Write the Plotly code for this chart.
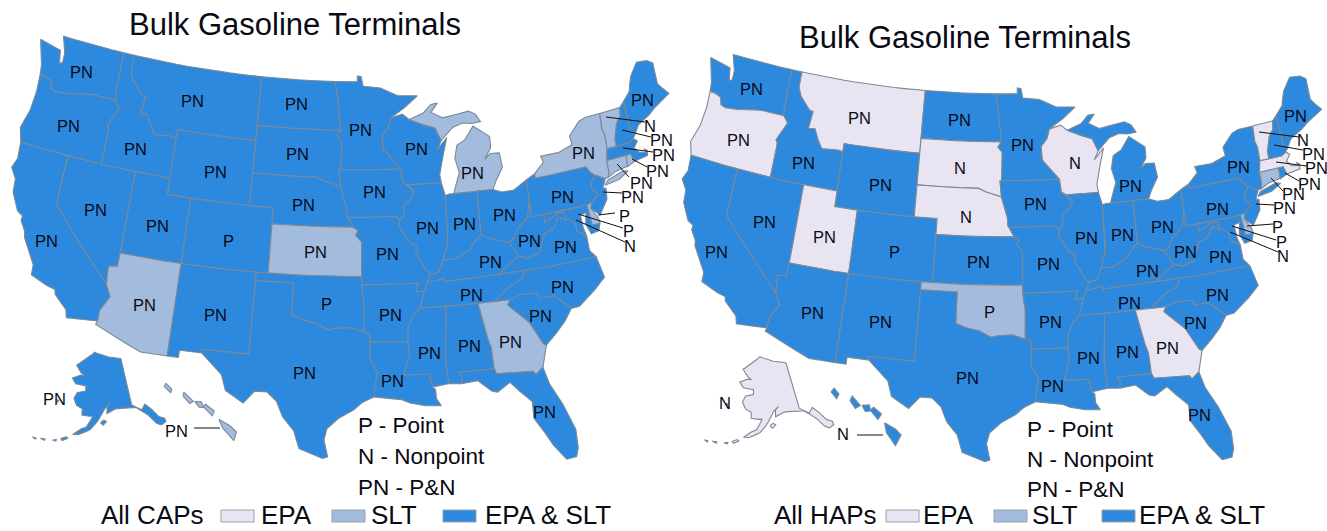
import numpy as np
import plotly.graph_objects as go

# ---------- data ----------
TITLE = "Bulk Gasoline Terminals"
CAP_SLT = ["AZ", "KS", "GA", "MI", "NY", "VT", "CT", "RI", "DE", "HI"]
CAP_EPA = []
HAP_SLT = ["OK", "CT", "DE"]
HAP_EPA = ["OR", "MT", "SD", "NE", "WI", "UT", "GA", "VT", "MA", "AK"]
COL = {"EPA": "#e8e4f2", "SLT": "#a3bbdd", "EPA & SLT": "#2c89de"}
EDGE = "#7c8996"

STATES = {
"WA": [[(-124.72,48.38),(-123.1,48.15),(-122.75,48.1),(-122.55,47.3),(-122.3,47.4),(-122.3,48.0),(-122.5,48.4),(-122.76,49.0),(-117.03,49.0),(-117.04,46.42),(-116.92,45.995),(-118.98,46.0),(-119.6,45.92),(-121.2,45.65),(-122.3,45.55),(-122.76,45.65),(-122.95,46.1),(-123.5,46.25),(-124.0,46.27),(-124.1,46.9),(-124.4,47.6)]],
"OR": [[(-124.0,46.27),(-123.5,46.25),(-122.95,46.1),(-122.76,45.65),(-122.3,45.55),(-121.2,45.65),(-119.6,45.92),(-118.98,46.0),(-116.92,45.995),(-116.46,45.6),(-116.85,45.0),(-117.2,44.4),(-117.03,44.2),(-117.03,42.0),(-124.2,42.0),(-124.55,42.84),(-124.1,44.0),(-123.95,45.2)]],
"CA": [[(-124.2,42.0),(-120.0,42.0),(-120.0,39.0),(-114.63,35.0),(-114.14,34.3),(-114.72,33.4),(-114.72,32.72),(-117.12,32.53),(-117.3,33.0),(-118.4,33.75),(-118.5,34.03),(-119.2,34.15),(-120.6,34.55),(-120.65,35.15),(-121.9,36.6),(-122.0,36.95),(-122.5,37.5),(-122.5,37.8),(-123.0,38.0),(-123.75,39.0),(-123.85,39.8),(-124.4,40.4),(-124.1,41.0)]],
"NV": [[(-120,42),(-114.04,42),(-114.04,36.2),(-114.75,36.1),(-114.63,35.0),(-120,39)]],
"ID": [[(-117.03,49),(-116.05,49),(-116.05,48.0),(-115.7,47.45),(-114.7,46.7),(-114.35,46.65),(-114.5,45.55),(-113.9,45.6),(-113.45,44.95),(-113.0,44.45),(-111.5,44.55),(-111.05,44.48),(-111.05,42.0),(-117.03,42.0),(-117.03,44.2),(-117.2,44.4),(-116.85,45.0),(-116.46,45.6),(-116.92,45.995),(-117.04,46.42)]],
"MT": [[(-116.05,49),(-104.05,49),(-104.05,45.0),(-111.05,45.0),(-111.05,44.48),(-111.5,44.55),(-113.0,44.45),(-113.45,44.95),(-113.9,45.6),(-114.5,45.55),(-114.35,46.65),(-114.7,46.7),(-115.7,47.45),(-116.05,48.0)]],
"WY": [[(-111.05,45),(-104.05,45),(-104.05,41),(-111.05,41)]],
"UT": [[(-114.04,42),(-111.05,42),(-111.05,41),(-109.05,41),(-109.05,37),(-114.04,37)]],
"CO": [[(-109.05,41),(-102.05,41),(-102.05,37),(-109.05,37)]],
"AZ": [[(-114.04,37),(-109.05,37),(-109.05,31.33),(-111.07,31.33),(-114.81,32.5),(-114.72,32.72),(-114.72,33.4),(-114.14,34.3),(-114.63,35.0),(-114.75,36.1),(-114.04,36.2)]],
"NM": [[(-109.05,37),(-103.0,37),(-103.04,32.0),(-106.62,32.0),(-106.53,31.78),(-108.21,31.78),(-108.21,31.33),(-109.05,31.33)]],
"ND": [[(-104.05,49),(-97.23,49),(-96.85,47.6),(-96.56,45.94),(-104.05,45.94)]],
"SD": [[(-104.05,45.94),(-96.56,45.94),(-96.85,45.6),(-96.45,45.3),(-96.45,43.5),(-96.6,43.5),(-96.45,42.49),(-97.9,42.8),(-98.5,43.0),(-104.05,43.0)]],
"NE": [[(-104.05,43),(-98.5,43),(-97.9,42.8),(-96.45,42.49),(-96.1,41.7),(-95.9,41.2),(-95.85,40.7),(-95.31,40.0),(-102.05,40),(-102.05,41),(-104.05,41)]],
"KS": [[(-102.05,40),(-95.31,40),(-94.9,39.8),(-95.1,39.5),(-94.61,39.1),(-94.62,37),(-102.05,37)]],
"OK": [[(-103,37),(-94.62,37),(-94.62,36.5),(-94.43,35.4),(-94.48,33.64),(-95.5,33.9),(-96.6,33.85),(-97.2,33.75),(-98.1,34.13),(-99.2,34.3),(-100,34.56),(-100,36.5),(-103,36.5)]],
"TX": [[(-106.62,32),(-103.04,32),(-103,36.5),(-100,36.5),(-100,34.56),(-99.2,34.3),(-98.1,34.13),(-97.2,33.75),(-96.6,33.85),(-95.5,33.9),(-94.48,33.64),(-94.04,33.55),(-94.04,33.02),(-94.04,31.99),(-93.55,31.2),(-93.7,30.5),(-93.84,29.7),(-94.7,29.35),(-95.3,28.9),(-96.4,28.35),(-97.2,27.7),(-97.4,27.0),(-97.15,25.96),(-97.5,25.85),(-99.1,26.4),(-99.5,27.5),(-100.3,28.3),(-100.8,29.25),(-101.5,29.77),(-102.4,29.77),(-103.15,28.98),(-104.5,29.65),(-104.9,30.6),(-106.53,31.78)]],
"MN": [[(-97.23,49),(-95.15,49),(-95.15,49.38),(-94.8,49.33),(-94.6,48.72),(-93.0,48.6),(-91.4,48.07),(-89.6,48.0),(-90.8,47.3),(-92.05,46.7),(-92.3,46.1),(-92.85,45.6),(-92.75,44.75),(-91.22,43.5),(-96.45,43.5),(-96.45,45.3),(-96.85,45.6),(-96.56,45.94),(-96.85,47.6)]],
"IA": [[(-96.45,43.5),(-91.22,43.5),(-91.1,42.7),(-90.15,42.1),(-90.3,41.75),(-91.1,41.2),(-91.0,40.7),(-91.42,40.38),(-91.7,40.6),(-95.77,40.58),(-95.85,40.7),(-95.9,41.2),(-96.1,41.7),(-96.45,42.49),(-96.6,43.5)]],
"MO": [[(-95.77,40.58),(-91.7,40.6),(-91.42,40.38),(-91.5,40.0),(-90.7,39.0),(-90.15,38.8),(-90.2,38.4),(-89.5,37.3),(-89.15,37.0),(-89.4,36.5),(-89.7,36.0),(-90.37,36.0),(-90.15,36.5),(-94.62,36.5),(-94.62,37),(-94.61,39.1),(-95.1,39.5),(-94.9,39.8),(-95.31,40.0),(-95.85,40.7)]],
"AR": [[(-94.62,36.5),(-90.15,36.5),(-90.37,36.0),(-89.7,36.0),(-90.1,35.0),(-90.6,34.6),(-91.1,33.9),(-91.17,33.0),(-94.04,33.02),(-94.04,33.55),(-94.48,33.64),(-94.43,35.4)]],
"LA": [[(-94.04,33.02),(-91.17,33.0),(-91.1,32.3),(-91.6,31.0),(-89.73,31.0),(-89.6,30.2),(-89.4,30.05),(-89.4,29.5),(-89.1,29.05),(-90.2,29.1),(-91.3,29.3),(-91.85,29.5),(-92.3,29.55),(-93.84,29.7),(-93.7,30.5),(-93.55,31.2),(-94.04,31.99)]],
"WI": [[(-92.05,46.7),(-91.0,46.9),(-90.4,46.55),(-89.1,46.15),(-88.1,45.9),(-87.6,45.1),(-88.0,44.55),(-87.1,45.25),(-87.5,44.2),(-87.9,43.0),(-87.8,42.49),(-90.65,42.5),(-91.1,42.7),(-91.22,43.5),(-92.75,44.75),(-92.85,45.6),(-92.3,46.1)]],
"IL": [[(-90.65,42.5),(-87.8,42.49),(-87.53,41.7),(-87.53,39.35),(-87.6,38.7),(-88.05,37.8),(-88.45,37.1),(-89.15,37.0),(-89.5,37.3),(-90.2,38.4),(-90.15,38.8),(-90.7,39.0),(-91.5,40.0),(-91.42,40.38),(-91.0,40.7),(-91.1,41.2),(-90.3,41.75),(-90.15,42.1)]],
"IN": [[(-87.53,41.7),(-87.2,41.76),(-86.8,41.76),(-84.8,41.76),(-84.82,39.1),(-84.9,39.05),(-85.4,38.7),(-85.8,38.3),(-86.5,38.0),(-87.1,37.8),(-88.05,37.8),(-87.6,38.7),(-87.53,39.35)]],
"MI": [[(-86.8,41.76),(-84.8,41.76),(-83.45,41.73),(-83.1,42.25),(-82.45,43.0),(-82.6,43.9),(-83.4,43.95),(-83.9,43.65),(-83.3,44.3),(-83.3,45.0),(-84.7,45.78),(-85.5,45.0),(-86.25,44.7),(-86.5,43.9),(-86.2,43.0),(-86.6,42.2)],
       [(-90.4,46.55),(-89.1,46.9),(-88.4,47.4),(-87.8,47.45),(-88.4,46.9),(-87.4,46.5),(-86.0,46.65),(-85.0,46.75),(-84.4,46.5),(-84.0,46.0),(-84.8,45.95),(-85.6,46.05),(-86.5,45.85),(-87.6,45.1),(-88.1,45.9),(-89.1,46.15)]],
"OH": [[(-84.8,41.76),(-83.45,41.73),(-82.7,41.5),(-81.7,41.5),(-80.52,42.0),(-80.52,40.64),(-80.85,39.7),(-81.7,39.2),(-82.2,38.6),(-82.6,38.4),(-83.6,38.65),(-84.3,38.85),(-84.82,39.1)]],
"KY": [[(-89.15,37.0),(-88.45,37.1),(-88.05,37.8),(-87.1,37.8),(-86.5,38.0),(-85.8,38.3),(-85.4,38.7),(-84.9,39.05),(-84.82,39.1),(-84.3,38.85),(-83.6,38.65),(-82.6,38.4),(-82.0,37.5),(-83.68,36.6),(-88.07,36.5),(-88.07,36.68),(-89.4,36.5)]],
"TN": [[(-90.1,35.0),(-88.2,35.0),(-84.32,35.0),(-83.1,35.75),(-82.0,36.1),(-81.68,36.59),(-83.68,36.6),(-88.07,36.5),(-88.07,36.68),(-89.4,36.5),(-89.7,36.0)]],
"MS": [[(-90.1,35.0),(-88.2,35.0),(-88.1,34.9),(-88.47,31.9),(-88.4,30.35),(-89.6,30.2),(-89.73,31.0),(-91.6,31.0),(-91.1,32.3),(-91.17,33.0),(-91.1,33.9),(-90.6,34.6)]],
"AL": [[(-88.2,35),(-85.6,35),(-85.18,32.87),(-85.0,32.3),(-85.0,31.0),(-87.6,31.0),(-87.4,30.65),(-87.5,30.3),(-88.4,30.35),(-88.47,31.9),(-88.1,34.9)]],
"GA": [[(-85.6,35),(-83.1,35),(-83.35,34.7),(-81.9,33.5),(-81.1,32.1),(-80.9,32.0),(-81.45,30.72),(-82.05,30.36),(-82.2,30.57),(-84.86,30.7),(-85.0,31.0),(-85.0,32.3),(-85.18,32.87)]],
"FL": [[(-87.5,30.3),(-87.4,30.65),(-87.6,31.0),(-85.0,31.0),(-84.86,30.7),(-82.2,30.57),(-82.05,30.36),(-81.45,30.72),(-81.2,29.7),(-80.55,28.4),(-80.03,26.8),(-80.15,25.7),(-80.4,25.2),(-81.1,25.13),(-81.8,26.1),(-82.2,26.9),(-82.75,27.8),(-82.65,28.8),(-83.4,29.5),(-84.0,30.1),(-85.0,29.6),(-85.4,29.7),(-86.3,30.4)]],
"SC": [[(-83.1,35),(-82.3,35.2),(-81.0,35.15),(-80.8,34.82),(-79.67,34.8),(-78.55,33.86),(-79.2,33.2),(-80.0,32.6),(-80.9,32.0),(-81.1,32.1),(-81.9,33.5),(-83.35,34.7)]],
"NC": [[(-84.32,35),(-83.1,35),(-82.3,35.2),(-81,35.15),(-80.8,34.82),(-79.67,34.8),(-78.55,33.86),(-77.9,33.9),(-76.5,34.65),(-75.55,35.25),(-75.87,36.55),(-81.68,36.59),(-82.0,36.1),(-83.1,35.75)]],
"VA": [[(-83.68,36.6),(-81.68,36.59),(-75.87,36.55),(-76.3,37.0),(-76.3,37.9),(-77.0,38.3),(-77.05,38.8),(-77.5,39.1),(-77.83,39.13),(-78.35,39.4),(-78.87,38.76),(-79.65,38.6),(-80.3,37.5),(-81.3,37.3),(-82.0,37.5)]],
"WV": [[(-82.6,38.4),(-82.2,38.6),(-81.7,39.2),(-80.85,39.7),(-80.52,40.64),(-80.52,39.72),(-79.48,39.72),(-79.48,39.2),(-78.35,39.63),(-77.83,39.6),(-77.72,39.32),(-77.83,39.13),(-78.35,39.4),(-78.87,38.76),(-79.65,38.6),(-80.3,37.5),(-81.3,37.3),(-82.0,37.5)]],
"MD": [[(-79.48,39.72),(-75.79,39.72),(-75.7,38.46),(-75.05,38.45),(-75.25,38.03),(-75.9,37.95),(-76.2,38.6),(-76.0,39.3),(-76.5,39.2),(-76.45,38.4),(-76.3,37.9),(-77.0,38.3),(-77.05,38.8),(-77.5,39.1),(-77.83,39.13),(-77.72,39.32),(-77.83,39.6),(-78.35,39.63),(-79.48,39.2)]],
"DE": [[(-75.79,39.72),(-75.4,39.8),(-75.55,39.45),(-75.1,38.8),(-75.05,38.45),(-75.7,38.46)]],
"PA": [[(-80.52,42.0),(-79.76,42.27),(-79.76,42.0),(-75.35,42.0),(-75.05,41.6),(-74.7,41.36),(-75.13,40.97),(-75.2,40.65),(-74.72,40.15),(-75.4,39.8),(-75.79,39.72),(-80.52,39.72),(-80.52,40.64)]],
"NJ": [[(-74.7,41.36),(-73.9,41.0),(-74.25,40.48),(-74.0,40.4),(-74.1,39.75),(-74.9,38.93),(-75.55,39.45),(-75.4,39.8),(-74.72,40.15),(-75.2,40.65),(-75.13,40.97)]],
"NY": [[(-79.76,42.27),(-78.9,42.85),(-79.05,43.26),(-77.5,43.25),(-76.2,43.55),(-76.3,44.1),(-75.3,44.85),(-74.7,45.0),(-73.35,45.0),(-73.4,44.0),(-73.25,43.6),(-73.27,42.75),(-73.5,42.05),(-73.5,41.3),(-73.65,41.0),(-73.9,41.0),(-74.7,41.36),(-75.05,41.6),(-75.35,42.0),(-79.76,42.0)],
       [(-74.03,40.6),(-73.75,40.85),(-72.3,41.15),(-71.9,41.05),(-72.8,40.7)]],
"CT": [[(-73.5,42.05),(-71.8,42.02),(-71.8,41.35),(-72.9,41.25),(-73.65,41.0),(-73.5,41.3)]],
"RI": [[(-71.8,42.02),(-71.38,42.02),(-71.2,41.5),(-71.85,41.32)]],
"MA": [[(-73.5,42.05),(-73.27,42.75),(-71.3,42.7),(-70.9,42.88),(-70.6,42.65),(-71.0,42.3),(-70.65,41.95),(-70.0,41.8),(-70.2,42.07),(-69.95,41.9),(-70.0,41.6),(-70.6,41.55),(-71.2,41.5),(-71.38,42.02),(-71.8,42.02)]],
"VT": [[(-73.35,45),(-71.5,45.01),(-71.6,44.5),(-72.05,44.1),(-72.45,43.2),(-72.46,42.73),(-73.27,42.75),(-73.25,43.6),(-73.4,44.0)]],
"NH": [[(-71.5,45.01),(-71.08,45.3),(-70.98,43.4),(-70.7,43.07),(-70.9,42.88),(-71.3,42.7),(-72.46,42.73),(-72.45,43.2),(-72.05,44.1),(-71.6,44.5)]],
"ME": [[(-71.08,45.3),(-70.4,45.8),(-70.25,46.2),(-70.0,46.7),(-69.23,47.46),(-68.3,47.36),(-67.8,47.07),(-67.8,45.7),(-67.45,45.3),(-67.0,44.85),(-68.5,44.3),(-69.1,44.0),(-70.2,43.6),(-70.7,43.07),(-70.98,43.4)]],
}
ALASKA = [[(-141,69.65),(-141,60.3),(-137.5,58.9),(-135.5,59.8),(-133.5,58.4),(-131.8,56.6),(-130,55.9),(-130.0,55.2),(-132,54.9),(-133.5,55.5),(-135.5,57.5),(-136.7,58.2),(-139.5,59.6),(-144,60.0),(-148,60.0),(-149.5,59.7),(-151.8,59.2),(-151.5,60.5),(-150,61.2),(-152.5,60.2),(-153.5,59.4),(-154.5,58.5),(-156.5,57.2),(-158.5,56.0),(-161,55.2),(-163,54.7),(-164.8,54.6),(-162,55.9),(-160,56.4),(-157.5,58.7),(-159,58.6),(-162,58.7),(-162,59.9),(-164.5,60.4),(-166,61.7),(-164.7,63.0),(-161,63.5),(-161,64.5),(-166,64.6),(-168,65.6),(-164,66.5),(-162,66.5),(-164,67.0),(-166.8,68.35),(-163,69.5),(-156.6,71.35),(-150,70.5)],
          [(-154.6,57.4),(-153.2,57.9),(-152.2,57.6),(-153.6,56.9)],
          [(-168.8,53.3),(-167.0,53.9),(-166.3,53.7),(-168.2,53.0)],
          [(-171.5,52.6),(-170.2,52.9),(-170.3,52.6)],
          [(-175.5,52.2),(-174.0,52.4),(-174.0,52.1)],
          [(-178.2,51.9),(-177.0,52.0),(-177.0,51.7)],
          [(-173.2,60.6),(-172.2,60.6),(-172.6,60.2)]]
HAWAII = [[(-159.8,22.15),(-159.4,22.35),(-159.15,22.0),(-159.5,21.75)],
          [(-158.35,21.6),(-158.0,21.85),(-157.55,21.3),(-158.1,21.15)],
          [(-157.4,21.3),(-156.7,21.3),(-156.8,20.95),(-157.3,20.95)],
          [(-156.8,21.0),(-156.4,21.15),(-155.9,20.75),(-156.4,20.45)],
          [(-155.9,20.25),(-155.1,19.85),(-154.8,19.5),(-155.65,18.95),(-156.05,19.7)]]

CAP_LABELS = ["PN","PN","PN","PN","PN","PN","PN","PN","PN","PN","PN","PN","PN","PN","PN","P","PN","PN","PN","PN","PN","PN","PN","PN","PN","PN","PN","PN","PN","P","PN","PN","PN","PN","PN","PN","PN","PN","PN","PN","PN","PN","N","PN","PN","PN","PN","PN","P","P","N"]
CAP_XY = [(81,72),(68,126),(135,149),(192,101),(296,104),(360,130),(416,149),(297,154),(215,172),(472,173),(583,153),(642,100),(95,210),(46,241),(157,226),(228,241),(303,205),(374,192),(427,228),(464,224),(504,215),(562,197),(315,252),(387,254),(490,262),(529,241),(565,247),(144,305),(215,315),(326,304),(390,315),(471,295),(562,287),(540,316),(510,342),(469,346),(429,353),(392,381),(304,373),(544,412),(54,399),(176,431),(650,126),(661,140),(663,155),(657,171),(641,183),(632,197),(624,216),(628,231),(630,246)]
HAP_LABELS = ["PN","PN","PN","PN","PN","PN","N","N","PN","PN","PN","PN","PN","PN","PN","P","N","PN","PN","PN","PN","PN","PN","PN","PN","PN","PN","PN","PN","P","PN","PN","PN","PN","PN","PN","PN","PN","PN","PN","N","N","N","PN","PN","PN","PN","PN","P","P","N"]
HAP_XY = [(751,89),(738,140),(803,163),(859,118),(959,120),(1022,145),(1075,163),(960,168),(880,185),(1130,186),(1238,167),(1295,116),(764,222),(716,252),(824,237),(894,252),(966,217),(1035,204),(1086,238),(1122,235),(1162,227),(1217,209),(978,262),(1048,264),(1147,271),(1185,252),(1220,257),(812,313),(880,322),(989,312),(1050,322),(1129,303),(1217,295),(1195,323),(1167,348),(1127,352),(1088,358),(1052,386),(967,378),(1199,415),(725,403),(843,434),(1303,140),(1313,154),(1316,168),(1309,184),(1293,194),(1284,208),(1277,227),(1281,242),(1283,256)]
LEADERS = [((606,117),(645,122)),((622,130),(651,137)),((623,148),(653,152)),((632,159),(647,167)),((617,164),(629,177)),((603,192),(622,193)),((598,215),(615,213)),((578,214),(623,228)),((576,220),(625,242)),((194,428),(220,428)),
           ((1259,132),(1299,137)),((1274,145),(1303,150)),((1276,162),(1307,166)),((1285,173),(1299,181)),((1271,178),(1283,191)),((1256,204),(1274,205)),((1247,226),(1273,224)),((1232,226),(1276,240)),((1230,232),(1278,252)),((857,435),(883,435))]

# reference anchors, (lon, lat) -> picture position
US_LL = [(-124.72,48.38),(-97.4,25.85),(-81.0,25.13),(-67.0,44.85),(-124.4,40.4),(-95.15,49.38),(-114.81,32.5),
         (-102.05,37),(-102.05,40),(-95.31,40),(-94.62,37),(-85.6,35),(-81.45,30.72),(-85,31),
         (-114.04,37),(-109.05,37),(-109.05,31.33),(-73.35,45),(-79.76,42),(-70,41.8),(-86.8,41.76),(-83.45,41.73),
         (-74.9,38.93),(-75.55,35.25),(-87.5,30.3),(-89.1,29.05),(-103.15,28.98),(-117.03,49),(-104.05,49),
         (-111.05,45),(-104.05,45),(-111.05,41),(-104.05,41),
         (-69.23,47.46),(-67.8,47.07),(-74.0,40.4),(-70.7,43.07)]
US_PX = {"L": [(43,39),(327,463),(570,457),(667,92),(9,167),(357,80),(97,325),
               (270,274),(272,224),(357,230),(362,277),(479,305),(543,371),(494,373),
               (120,255),(181,267),(170,352),(598,117),(534,175),(647,153),(453,190),(496,187),
               (598,216),(605,276),(457,374),(440,408),(237,400),(124,53),(259,75),
               (177,129),(254,139),(168,194),(250,204),
               (642,60),(650,65),(608,192),(635,132)],
         "R": [(712,58),(989,464),(1225,459),(1319,110),(681,177),(1017,88),(766,333),
               (934,281),(937,235),(1015,236),(1025,287),(1138,311),(1197,372),(1151,378),
               (788,265),(848,276),(838,361),(1254,128),(1187,185),(1300,167),(1107,204),(1151,201),
               (1252,226),(1260,284),(1115,384),(1101,410),(903,405),(792,70),(924,90),
               (844,145),(918,153),(835,206),(916,214),
               (1295,75),(1303,80),(1261,198),(1286,147)]}
AK_LL = [(-156.6,71.35),(-141,69.65),(-141,60.3),(-130,55.2),(-168,65.6),(-178.2,51.9)]
AK_PX = {"L": [(90,354),(124,357),(132,403),(165,423),(75,378),(32,437)],
         "R": [(750,359),(792,361),(800,408),(832,425),(746,381),(703,440)]}
HI_LL = [(-159.5,22.05),(-158.0,21.5),(-156.3,20.8),(-155.5,19.6)]
HI_PX = {"L": [(167,388),(189,398),(209,410),(229,430)],
         "R": [(834,393),(856,403),(876,413),(893,434)]}

# ---------- projection ----------
def albers(lon, lat, p1=29.5, p2=45.5, lon0=-96.0, lat0=37.5):
    lon, lat, p1, p2, lon0, lat0 = map(np.radians, (np.asarray(lon, float), np.asarray(lat, float), p1, p2, lon0, lat0))
    n = (np.sin(p1) + np.sin(p2)) / 2
    c = np.cos(p1) ** 2 + 2 * n * np.sin(p1)
    rho = np.sqrt(c - 2 * n * np.sin(lat)) / n
    rho0 = np.sqrt(c - 2 * n * np.sin(lat0)) / n
    th = n * (lon - lon0)
    return rho * np.sin(th), rho0 - rho * np.cos(th)

def fit(ll, px, cubic=False, **kw):
    a = np.array(ll)
    def feats(lon, lat):
        u, v = albers(lon, lat, **kw)
        cols = [u, v, np.ones_like(u)]
        if cubic:
            cols += [u * u, u * v, v * v, u ** 3, u * u * v, u * v * v, v ** 3]
        return np.c_[tuple(cols)]
    M, *_ = np.linalg.lstsq(feats(a[:, 0], a[:, 1]), np.array(px, float), rcond=None)
    def f(lon, lat):
        P = feats(np.asarray(lon, float), np.asarray(lat, float)) @ M
        return P[:, 0], P[:, 1]
    return f

def densify(ring):
    r = list(ring) + [ring[0]]
    lo, la = [], []
    for (a, b), (c, d) in zip(r[:-1], r[1:]):
        n = max(1, int(max(abs(c - a), abs(d - b))))
        for t in np.arange(n) / n:
            lo.append(a + (c - a) * t)
            la.append(b + (d - b) * t)
    lo.append(r[-1][0]); la.append(r[-1][1])
    return lo, la

AK_KW = dict(p1=55, p2=65, lon0=-154, lat0=50)
HI_KW = dict(p1=8, p2=18, lon0=-157, lat0=13)

fig = go.Figure()

def add_state(name, rings, f, color):
    xs, ys = [], []
    for ring in rings:
        lo, la = densify(ring)
        x, y = f(lo, la)
        xs += list(x) + [None]
        ys += list(y) + [None]
    fig.add_trace(go.Scatter(x=xs, y=ys, mode="lines", fill="toself", fillcolor=color, name=name,
                             line=dict(color=EDGE, width=1.1), hoverinfo="name", showlegend=False))

def status(st, slt, epa):
    return COL["SLT"] if st in slt else COL["EPA"] if st in epa else COL["EPA & SLT"]

for side, slt, epa in (("L", CAP_SLT, CAP_EPA), ("R", HAP_SLT, HAP_EPA)):
    f = fit(US_LL, US_PX[side], cubic=True)
    for st, rings in STATES.items():
        add_state(st, rings, f, status(st, slt, epa))
    add_state("AK", ALASKA, fit(AK_LL, AK_PX[side], **AK_KW), status("AK", slt, epa))
    add_state("HI", HAWAII, fit(HI_LL, HI_PX[side], **HI_KW), status("HI", slt, epa))

lx, ly = [], []
for a, b in LEADERS:
    lx += [a[0], b[0], None]
    ly += [a[1], b[1], None]
fig.add_trace(go.Scatter(x=lx, y=ly, mode="lines", line=dict(color="#111111", width=1), hoverinfo="skip", showlegend=False))

FONT = "Liberation Sans, Arial, sans-serif"
def note(x, y, s, size, anchor="center", **kw):
    fig.add_annotation(x=x, y=y, xref="x", yref="y", text=s, showarrow=False, xanchor=anchor, yanchor="middle",
                       font=dict(family=FONT, size=size, color="#0a0a14"), **kw)

for s, (x, y) in zip(CAP_LABELS, CAP_XY):
    note(x, y, s, 16.5)
for s, (x, y) in zip(HAP_LABELS, HAP_XY):
    note(x, y, s, 16.5)

note(295, 24, TITLE, 31)
note(965, 37, TITLE, 31)

KEY = ["P - Point", "N - Nonpoint", "PN - P&N"]
for s, y in zip(KEY, (425, 456, 487)):
    note(356, y, s, 22.5, "left")
for s, y in zip(KEY, (429, 459, 489)):
    note(1025, y, s, 22.5, "left")

note(99, 515, "All CAPs", 26, "left", height=26)
note(772, 515, "All HAPs", 26, "left", height=26)
for s, x in zip(("EPA", "SLT", "EPA & SLT"), (259, 369, 483)):
    note(x, 515, s, 26, "left", height=26)
for s, x in zip(("EPA", "SLT", "EPA & SLT"), (921, 1030, 1137)):
    note(x, 515, s, 26, "left", height=26)
for x0, k in zip((221, 332, 443, 886, 994, 1102), ("EPA", "SLT", "EPA & SLT") * 2):
    fig.add_shape(type="rect", xref="x", yref="y", x0=x0, x1=x0 + 33, y0=510, y1=522,
                  fillcolor=COL[k], line=dict(color="#9aa0a8", width=1))

fig.update_layout(width=1327, height=531, margin=dict(l=0, r=0, t=0, b=0), paper_bgcolor="white", plot_bgcolor="white",
                  xaxis=dict(range=[0, 1327], visible=False, fixedrange=True),
                  yaxis=dict(range=[531, 0], visible=False, fixedrange=True), showlegend=False)
fig.write_html("out.html", config={"displayModeBar": False},
               post_script="document.body.style.margin='0';document.body.style.overflow='hidden';")
